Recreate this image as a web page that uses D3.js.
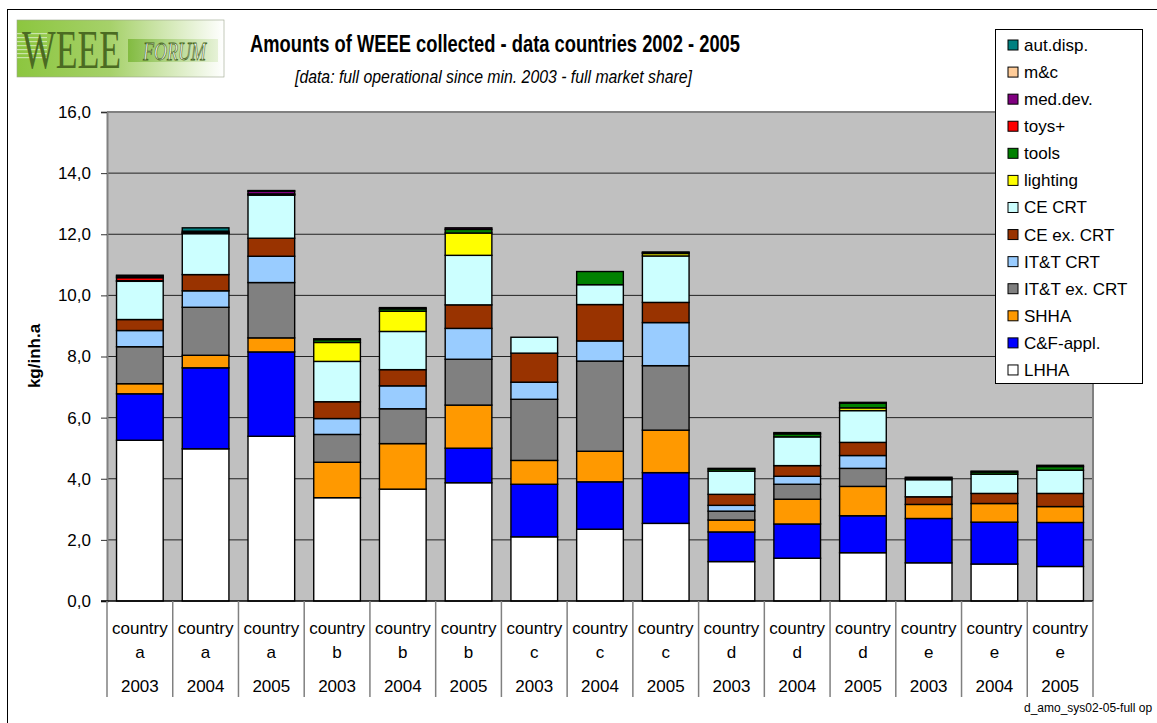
<!DOCTYPE html>
<html><head><meta charset="utf-8">
<script src="https://cdn.jsdelivr.net/npm/d3@7"></script>
<style>
body{margin:0;background:#fff;}
svg{display:block;font-family:"Liberation Sans",Arial,sans-serif;}
</style>
</head><body>
<svg id="c" width="1157" height="723"></svg>
<script>
// ---------- DATA ----------
const countries = ["a","a","a","b","b","b","c","c","c","d","d","d","e","e","e"];
const years = ["2003","2004","2005","2003","2004","2005","2003","2004","2005","2003","2004","2005","2003","2004","2005"];
const yTicks = [0,2,4,6,8,10,12,14,16];
const seriesNames = ["LHHA","C&F-appl.","SHHA","IT&T ex. CRT","IT&T CRT","CE ex. CRT","CE CRT","lighting","tools","toys+","med.dev.","m&c","aut.disp."];
const seriesColors = ["#FFFFFF","#0000FF","#FF9900","#808080","#99CCFF","#993300","#CCFFFF","#FFFF00","#008000","#FF0000","#800080","#FFCC99","#008080"];

const LHHA    = [5.26,4.98,5.39,3.38,3.66,3.87,2.10,2.35,2.54,1.29,1.40,1.58,1.25,1.21,1.13];
const CFappl  = [1.52,2.65,2.76,0.00,0.00,1.13,1.72,1.55,1.66,0.97,1.12,1.21,1.45,1.37,1.44];
const SHHA    = [0.33,0.41,0.46,1.16,1.49,1.41,0.78,1.00,1.39,0.39,0.81,0.96,0.46,0.61,0.52];
const ITTex   = [1.21,1.57,1.81,0.91,1.14,1.50,2.00,2.95,2.11,0.29,0.49,0.59,0.00,0.00,0.00];
const ITTcrt  = [0.53,0.54,0.86,0.52,0.75,1.01,0.56,0.66,1.41,0.19,0.26,0.42,0.00,0.00,0.00];
const CEex    = [0.36,0.53,0.59,0.55,0.53,0.77,0.95,1.19,0.66,0.36,0.35,0.43,0.25,0.33,0.43];
const CEcrt   = [1.25,1.34,1.41,1.32,1.25,1.62,0.52,0.65,1.52,0.76,0.94,1.04,0.56,0.63,0.76];
const lighting= [0.00,0.00,0.00,0.62,0.66,0.73,0.00,0.00,0.08,0.00,0.00,0.09,0.00,0.00,0.00];
const tools   = [0.02,0.02,0.02,0.09,0.08,0.12,0.00,0.43,0.03,0.07,0.10,0.15,0.05,0.07,0.12];
const toys    = [0.10,0.02,0.02,0.00,0.00,0.00,0.00,0.00,0.00,0.00,0.00,0.00,0.00,0.00,0.00];
const medDev  = [0.05,0.04,0.09,0.03,0.04,0.05,0.00,0.00,0.00,0.02,0.04,0.03,0.03,0.03,0.04];
const mc      = [0.00,0.00,0.00,0.00,0.00,0.00,0.00,0.00,0.00,0.00,0.00,0.00,0.00,0.00,0.00];
const autDisp = [0.03,0.11,0.02,0.00,0.00,0.00,0.00,0.00,0.02,0.00,0.00,0.00,0.00,0.00,0.00];

const seriesValues = [LHHA,CFappl,SHHA,ITTex,ITTcrt,CEex,CEcrt,lighting,tools,toys,medDev,mc,autDisp];

// ---------- BUILD ----------
const svg = d3.select("#c");
const plot = {l:107, r:1093, t:112, b:601};

const rows = countries.map((c,i)=>{
  const o = {idx:i};
  seriesNames.forEach((s,k)=>o[s]=seriesValues[k][i]);
  return o;
});
const stack = d3.stack().keys(seriesNames)(rows);

const x = d3.scaleBand().domain(d3.range(countries.length)).range([plot.l,plot.r]).paddingInner(0.29).paddingOuter(0.145);
const y = d3.scaleLinear().domain([0,16]).range([plot.b,plot.t]);

// outer chart border
svg.append("rect").attr("x",7.5).attr("y",9.5).attr("width",1200).attr("height",800)
  .attr("fill","#fff").attr("stroke","#000").attr("stroke-width",1);

// plot background
svg.append("rect").attr("x",plot.l).attr("y",plot.t).attr("width",plot.r-plot.l).attr("height",plot.b-plot.t)
  .attr("fill","#C0C0C0");

// gridlines
svg.append("g").selectAll("line").data(yTicks.filter(d=>d>0&&d<16)).join("line")
  .attr("x1",plot.l).attr("x2",plot.r).attr("y1",d=>y(d)).attr("y2",d=>y(d))
  .attr("stroke","#222").attr("stroke-width",1);

// plot border (top, right)
svg.append("path").attr("d",`M${plot.l},${plot.t}H${plot.r}V${plot.b}`)
  .attr("fill","none").attr("stroke","#808080").attr("stroke-width",2);

// bars
const gBars = svg.append("g");
stack.forEach((layer,k)=>{
  gBars.append("g").selectAll("rect").data(layer.filter(d=>d[1]-d[0]>0)).join("rect")
    .attr("x",d=>x(d.data.idx)).attr("width",x.bandwidth())
    .attr("y",d=>y(d[1])).attr("height",d=>y(d[0])-y(d[1]))
    .attr("fill",seriesColors[k]).attr("stroke","#000").attr("stroke-width",1.4);
});

// y axis
const yAxis = d3.axisLeft(y).tickValues(yTicks).tickSize(6).tickPadding(10)
  .tickFormat(d=>d.toFixed(1).replace(".",","));
const gy = svg.append("g").attr("transform",`translate(${plot.l},0)`).call(yAxis);
gy.select(".domain").attr("stroke","#808080").attr("stroke-width",2);
gy.selectAll(".tick line").attr("stroke","#333").attr("stroke-width",1);
gy.selectAll(".tick text").attr("font-size",17).attr("fill","#000")
  .attr("font-family","'Liberation Sans',Arial,sans-serif");

// x axis line
svg.append("line").attr("x1",plot.l-6).attr("x2",plot.r).attr("y1",plot.b).attr("y2",plot.b)
  .attr("stroke","#000").attr("stroke-width",1.5);

// category separators
const step = x.step();
svg.append("g").selectAll("line").data(d3.range(countries.length+1)).join("line")
  .attr("x1",d=>plot.l+d*step).attr("x2",d=>plot.l+d*step)
  .attr("y1",plot.b).attr("y2",697)
  .attr("stroke","#808080").attr("stroke-width",1.5);

// x labels
const gx = svg.append("g").attr("font-size",17).attr("text-anchor","middle").attr("fill","#000");
countries.forEach((c,i)=>{
  const cx = x(i)+x.bandwidth()/2;
  gx.append("text").attr("x",cx).attr("y",634).text("country");
  gx.append("text").attr("x",cx).attr("y",658).text(c);
  gx.append("text").attr("x",cx).attr("y",692).text(years[i]);
});

// y title
svg.append("text").attr("transform","translate(40,356) rotate(-90)")
  .attr("text-anchor","middle").attr("font-size",17).attr("font-weight","bold").text("kg/inh.a");

// title
svg.append("text").attr("x",250).attr("y",52).attr("font-size",24).attr("font-weight","bold")
  .attr("textLength",490).attr("lengthAdjust","spacingAndGlyphs")
  .text("Amounts of WEEE collected - data countries 2002 - 2005");
svg.append("text").attr("x",295).attr("y",83).attr("font-size",19).attr("font-style","italic")
  .attr("textLength",397).attr("lengthAdjust","spacingAndGlyphs")
  .text("[data: full operational since min. 2003 - full market share]");

// footnote
svg.append("text").attr("x",1024).attr("y",712).attr("font-size",12).text("d_amo_sys02-05-full op");

// legend
const lg = svg.append("g");
lg.append("rect").attr("x",995.5).attr("y",29.5).attr("width",147).attr("height",354)
  .attr("fill","#fff").attr("stroke","#000").attr("stroke-width",1);
const legendOrder = seriesNames.map((s,k)=>k).reverse();
legendOrder.forEach((k,j)=>{
  const cy = 45 + j*27.08;
  lg.append("rect").attr("x",1008).attr("y",cy-5).attr("width",10).attr("height",10)
    .attr("fill",seriesColors[k]).attr("stroke","#000").attr("stroke-width",1);
  lg.append("text").attr("x",1024).attr("y",cy+6).attr("font-size",17).text(seriesNames[k]);
});

// logo
const defs = svg.append("defs");
const lgr = defs.append("linearGradient").attr("id","lg1");
lgr.append("stop").attr("offset","0%").attr("stop-color","#8CC63F");
lgr.append("stop").attr("offset","45%").attr("stop-color","#A6D16A");
lgr.append("stop").attr("offset","100%").attr("stop-color","#FFFFFF");
const lgr2 = defs.append("linearGradient").attr("id","lg2");
lgr2.append("stop").attr("offset","0%").attr("stop-color","#7DB83A");
lgr2.append("stop").attr("offset","100%").attr("stop-color","#E4F1D4");
const logo = svg.append("g");
logo.append("rect").attr("x",17).attr("y",20).attr("width",207).attr("height",57).attr("fill","url(#lg1)");
logo.append("rect").attr("x",17).attr("y",20).attr("width",207).attr("height",57).attr("fill","none")
  .attr("stroke","#9aa58a").attr("stroke-width",0.6);
[33,37,41,45,49,53,57].forEach(yy=>{
  logo.append("rect").attr("x",17).attr("y",yy).attr("width",30).attr("height",1.2).attr("fill","#d8ecc0").attr("opacity",0.8);
});
logo.append("rect").attr("x",128).attr("y",39).attr("width",90).attr("height",23).attr("fill","url(#lg2)").attr("opacity",0.9);
logo.append("text").attr("transform","translate(22,68) scale(0.66,1)")
  .attr("font-family","'Liberation Serif','DejaVu Serif',serif")
  .attr("font-size",54).attr("fill","#4B6B22").text("WEEE");
logo.append("text").attr("transform","translate(143,60) scale(0.72,1)")
  .attr("font-family","'Liberation Serif','DejaVu Serif',serif")
  .attr("font-size",25).attr("font-style","italic").attr("fill","#fff").attr("stroke","#4B6B22").attr("stroke-width",0.8)
  .text("FORUM");
</script>
</body></html>
